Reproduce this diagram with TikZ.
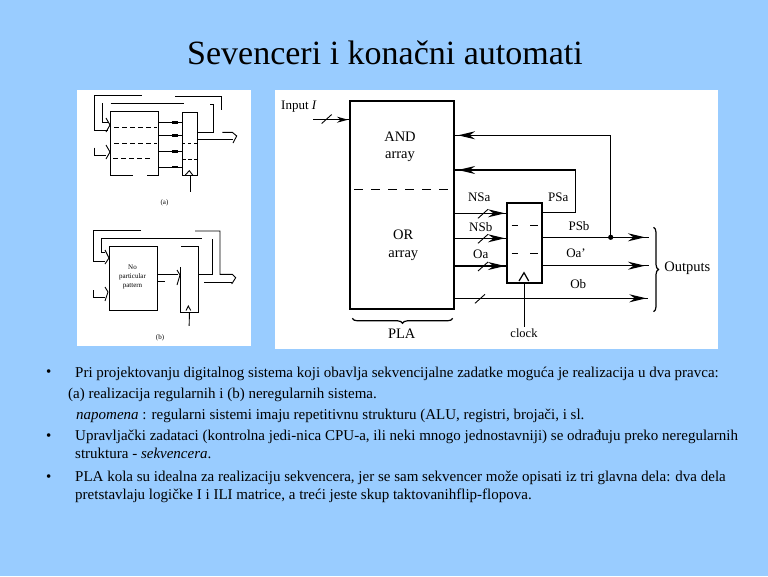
\documentclass[tikz,border=0pt]{standalone}
\usepackage{fontspec}
\setmainfont{Liberation Serif}
\usetikzlibrary{arrows.meta,decorations.markings,decorations.pathreplacing}
\definecolor{slidebg}{HTML}{99CCFF}
\tikzset{
  panel/.style={fill=white,draw=none,anchor=north west,inner sep=0pt},
  thinl/.style={line width=0.9pt,black},
  wire/.style={line width=1.2pt,black},
  heavy/.style={line width=1.6pt,black},
  blk/.style={draw=black,line width=1.5pt,fill=none,inner sep=0pt,anchor=north west},
  midtip/.style={postaction={decorate},decoration={markings,mark=at position #1 with {\arrow{Stealth[length=17pt,width=8pt]}}}},
  lab/.style={font=\fontsize{13}{13}\selectfont,inner sep=0pt},
  big/.style={font=\fontsize{14.5}{14.5}\selectfont,inner sep=0pt},
  tiny/.style={font=\fontsize{7}{8}\selectfont,inner sep=0pt,align=center},
  body/.style={font=\fontsize{15}{17}\selectfont,inner sep=0pt,anchor=base west},
}
\newcommand{\slashmark}[2]{\draw[thinl] (#1-5,#2+4.5) -- (#1+5,#2-4.5);}
\begin{document}
\begin{tikzpicture}[x=1pt,y=-1pt]
\useasboundingbox (0,0) rectangle (768,576);
\fill[slidebg] (0,0) rectangle (768,576);

\node[inner sep=0pt,font=\fontsize{34}{38}\selectfont] (title) at (385,53) {Sevenceri i konačni automati};

% white panels
\node[panel,minimum width=174pt,minimum height=256pt] (panelL) at (77,90) {};
\node[panel,minimum width=443pt,minimum height=259pt] (panelR) at (275,90) {};

% ---------- (a)
\node[blk,line width=1pt,minimum width=48pt,minimum height=63.4pt] (arrA) at (110.3,111.3) {};
\draw[white,line width=2pt] (133,174.7) -- (147,174.7);
\node[blk,line width=1pt,minimum width=15pt,minimum height=63pt] (regA) at (182.3,112.3) {};
\foreach \yy in {127.3,143.3}{\draw[thinl,dash pattern=on 5pt off 3pt] (114,\yy) -- (157,\yy);}
\draw[thinl,dash pattern=on 5pt off 3pt] (113,158.3) -- (150,158.3);
\draw[thinl,dash pattern=on 3pt off 3pt] (regA.west |- 0,143.3) -- (regA.east |- 0,143.3);
\draw[thinl,dash pattern=on 4pt off 2pt] (regA.west |- 0,159.3) -- (regA.east |- 0,159.3);
\foreach \yy in {122.7,135.3,151.3,167}{
  \draw[thinl] (arrA.east |- 0,\yy) -- (regA.west |- 0,\yy);
  \fill (172,\yy-1.3) rectangle (178,\yy+1.3);
}
\draw[thinl] (141.7,95.3) -- (94,95.3) -- (94,130.3) -- (108,130.3);
\draw[thinl] (175,96.3) -- (221.7,96.3) -- (221.7,109.7);
\draw[thinl] (110.7,103.3) -- (184,103.3);
\draw[thinl] (102.3,103.3) -- (102.3,122.3) -- (109,122.3);
\draw[thinl] (210,104) -- (213.3,104) -- (213.3,132.3) -- (regA.east |- 0,132.3);
\draw[thinl] (regA.east |- 0,139) -- (233.3,139);
\draw[thinl] (222.3,132.3) -- (232.3,132.3) -- (236.7,136) -- (233,143);
\draw[thinl] (94,147.7) -- (94,155.3) -- (103,155.3);
\draw[thinl,dashed] (103,155.3) -- (109,155.3);
\draw[thinl] (106,118) -- (110,125) -- (106,132);
\draw[thinl] (106,145) -- (110,152) -- (106,159);
\draw[thinl] (regA.south) -- +(0,15.7);
\draw[thinl] (185.3,175) -- (189.3,170.7) -- (192.7,175);
\node[tiny] (capA) at (164.5,202.7) {(a)};

% ---------- (b)
\node[blk,line width=1pt,minimum width=48pt,minimum height=63.4pt] (arrB) at (108.7,246.3) {};
\node[tiny] (noPat) at (132.5,277) {No\\[1pt]particular\\[1pt]pattern};
\node[blk,draw=none,minimum width=16pt,minimum height=64.4pt] (regB) at (180.7,246.3) {};
\draw[thinl,line width=1pt] (181.4,246.3) -- (regB.north east) -- (regB.south east) -- (regB.south west) -- (180.7,267);
\draw[thinl] (arrB.east |- 0,274.3) -- (178.3,274.3);
\draw[thinl] (177,270) -- (180,275) -- (177,285);
\draw[thinl] (arrB.east |- 0,281.7) -- (165,281.7);
\draw[thinl] (141,230.3) -- (93.3,230.3) -- (93.3,261) -- (105,261);
\draw[thinl] (195,231) -- (220,231) -- (220,274.3) -- (232.3,274.3) -- (235.7,277.7) -- (231.7,284);
\draw[thinl] (204,282.3) -- (231.7,282.3);
\draw[thinl] (201.7,238.3) -- (101,238.3) -- (101,252.3) -- (105,252.3);
\draw[thinl] (212.3,239) -- (212.3,274.3) -- (regB.east |- 0,274.3);
\draw[thinl] (93.3,290.3) -- (93.3,297.3) -- (105,297.3);
\draw[thinl] (105,250) -- (109,258) -- (105,264);
\draw[thinl] (105,287) -- (108,292) -- (105,301);
\draw[thinl] (regB.south) -- +(-0.3,13.6);
\draw[thinl] (186,310.5) -- (188.3,306) -- (190.7,310.5);
\node[tiny] (capB) at (160,337.7) {(b)};

% ---------- PLA
\node[blk,line width=1.8pt,minimum width=104.3pt,minimum height=208pt] (pla) at (349,100.3) {};
\node[lab] (inp) at (299,106.5) {Input \textit{I}};
\coordinate (inFree) at (313.3,119.7);
\draw[wire,postaction={decorate},decoration={markings,mark=at position -1pt with {\arrow{Stealth[length=11pt,width=6pt]}}}] (inFree) -- (pla.west |- inFree);
\slashmark{326.7}{119}
\node[big] (andT) at (400,136.7) {AND};
\node[big] (andB) at (400,157) {array};
\node[big] (orT) at (403.3,235) {OR};
\node[big] (orB) at (403.3,256) {array};
\draw[heavy,dash pattern=on 9pt off 8pt] (354.3,189.3) -- (448.3,189.3);
\draw[wire,decorate,decoration={brace,amplitude=5pt}] (452.7,318.3) -- (352.3,318.3);
\node[big] (plaT) at (401.7,333.3) {PLA};

\node[blk,line width=1.8pt,minimum width=35pt,minimum height=80pt] (ff) at (506,201.7) {};
\foreach \yy in {225,253.7}{
  \draw[thinl] (511.7,\yy) -- (518.3,\yy);
  \draw[thinl] (530,\yy) -- (538,\yy);
}
\draw[wire] (519,281) -- (524,272.7) -- (528.7,281);
\coordinate (clk) at (524,326.7);
\draw[thinl] (clk |- ff.south) -- (clk);
\node[lab,font=\fontsize{12.5}{12.5}\selectfont] (clkT) at (524,333) {clock};

\coordinate (jn) at (610.7,237.3);
\fill (jn) circle (2.6pt);
% feedback
\draw[wire,midtip=-3pt] (jn) -- (jn |- 0,135.3) -- (pla.east |- 0,135.3);
\draw[wire,midtip=-3pt] (ff.east |- 0,212.3) -- (575.7,212.3) -- (575.7,170) -- (pla.east |- 0,170);

% inputs of the flip-flop
\foreach \yy in {213.3,238.3,266}{
  \draw[wire,midtip=-1pt] (pla.east |- 0,\yy) -- (ff.west |- 0,\yy);
  \slashmark{483}{\yy+0.5}
}
\draw[wire,midtip=-2pt] (pla.east |- 0,298.3) -- (648.3,298.3);
\slashmark{480}{298.8}

% outputs
\coordinate (outPS) at (649,237.3);
\coordinate (outOa) at (649,265.7);
\draw[heavy] (ff.east |- jn) -- (jn);
\draw[wire,midtip=-4pt] (jn) -- (outPS);
\draw[wire,midtip=-4pt] (ff.east |- outOa) -- (outOa);
\draw[wire,decorate,decoration={brace,amplitude=5pt}] (653.5,227.3) -- (653.5,311.7);

\node[lab] (nsa) at (479.3,197.3) {NSa};
\node[lab] (nsb) at (480.7,227.3) {NSb};
\node[lab] (oa) at (480.7,254) {Oa};
\node[lab] (psa) at (558.3,197.3) {PSa};
\node[lab] (psb) at (579,226) {PSb};
\node[lab] (oap) at (576,253.3) {Oa'};
\node[lab] (ob) at (578.3,284.3) {Ob};
\node[big] (outs) at (687.3,268.7) {Outputs};

% text
\foreach \yy [count=\ii] in {376.7,440,481}{
  \node[body] (bul\ii) at (46,\yy) {•};
}
\node[body] (l1) at (75,377) {Pri projektovanju digitalnog sistema koji obavlja sekvencijalne zadatke moguća je realizacija u dva pravca:};
\node[body] (l2) at (68,398) {(a) realizacija regularnih i (b) neregularnih sistema.};
\node[body] (l3) at (76,419) {\textit{napomena} : regularni sistemi imaju repetitivnu strukturu (ALU, registri, brojači, i sl.};
\node[body] (l4) at (75,440) {Upravljački zadataci (kontrolna jedi-nica CPU-a, ili neki mnogo jednostavniji) se odrađuju preko neregularnih};
\node[body] (l5) at (75,458) {struktura - \textit{sekvencera}.};
\node[body] (l6) at (75,481) {PLA kola su idealna za realizaciju sekvencera, jer se sam sekvencer može opisati iz tri glavna dela: dva dela};
\node[body] (l7) at (75,499) {pretstavlaju logičke I i ILI matrice, a treći jeste skup taktovanihflip-flopova.};
\end{tikzpicture}
\end{document}
